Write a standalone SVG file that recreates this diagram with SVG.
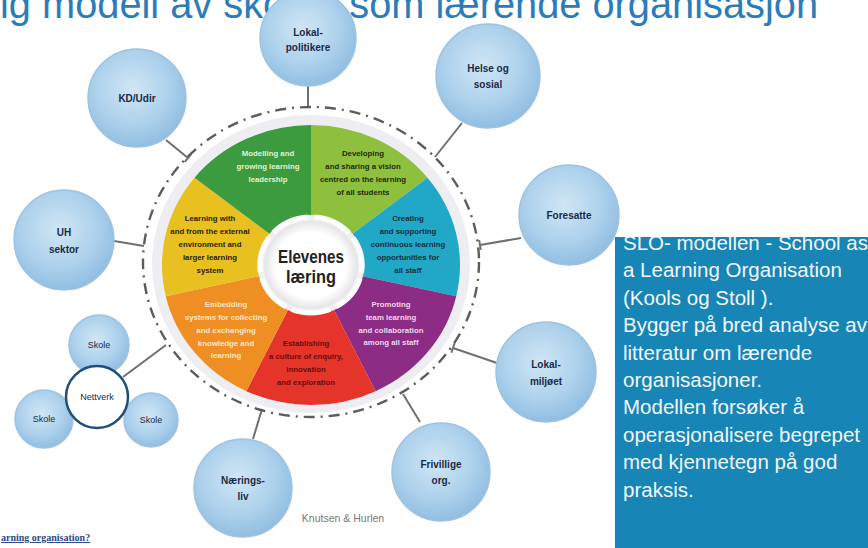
<svg xmlns="http://www.w3.org/2000/svg" width="868" height="548" viewBox="0 0 868 548">
<style>
.node{fill:url(#nodeGrad);stroke:#9fc2de;stroke-width:1.4}
.nt{font-family:"Liberation Sans",Arial,sans-serif;font-weight:bold;font-size:10px;fill:#1b2a48;text-anchor:middle}
.sk{font-family:"Liberation Sans",Arial,sans-serif;font-size:9px;fill:#1b2a48;text-anchor:middle}
.con{stroke:#6f6f6f;stroke-width:2;fill:none}
.seg{font-family:"Liberation Sans",Arial,sans-serif;font-weight:bold;font-size:7.8px;text-anchor:middle}
.box{font-family:"Liberation Sans",Arial,sans-serif;font-size:20.5px;fill:#f3f8fb}
</style>
<defs>
<radialGradient id="nodeGrad" cx="45%" cy="40%" r="62%">
<stop offset="0" stop-color="#d0e6f5"/>
<stop offset="0.6" stop-color="#add1ec"/>
<stop offset="1" stop-color="#8fbce0"/>
</radialGradient>
<radialGradient id="discGrad" cx="50%" cy="50%" r="50%">
<stop offset="0.75" stop-color="#ffffff"/>
<stop offset="1" stop-color="#e4e4e8"/>
</radialGradient>
<marker id="tbar" viewBox="-2 -6 4 12" markerWidth="4" markerHeight="12" refX="0" refY="0" orient="auto" markerUnits="userSpaceOnUse">
<path d="M0,-5 L0,5" stroke="#6f6f6f" stroke-width="2"/>
</marker>
<clipPath id="boxClip"><rect x="615" y="237" width="253" height="311"/></clipPath>
</defs>
<rect width="868" height="548" fill="#ffffff"/>

<text x="0" y="18" font-family="'Liberation Sans',Arial,sans-serif" font-size="40" fill="#2b7cb9" textLength="818" lengthAdjust="spacingAndGlyphs">ig modell av skolen som lærende organisasjon</text>

<g id="connectors">
<line class="con" x1="308" y1="86" x2="308" y2="108"/>
<line class="con" x1="166" y1="140" x2="188" y2="158" marker-end="url(#tbar)"/>
<line class="con" x1="462" y1="123" x2="435" y2="157"/>
<line class="con" x1="521" y1="238" x2="480" y2="245" marker-end="url(#tbar)"/>
<line class="con" x1="497" y1="363" x2="453" y2="348" marker-end="url(#tbar)"/>
<line class="con" x1="420" y1="422" x2="403" y2="394"/>
<line class="con" x1="253" y1="439" x2="262" y2="409"/>
<line class="con" x1="114" y1="241" x2="144" y2="246"/>
<line class="con" x1="123" y1="377" x2="166" y2="345"/>
</g>

<g id="wheel">
<ellipse cx="311" cy="264" rx="159" ry="149" fill="#eeeef2"/>
<ellipse cx="311" cy="262" rx="168" ry="155" fill="none" stroke="#5c5c5c" stroke-width="2.4" stroke-dasharray="11 6 2 6"/>
<g transform="translate(311,265) scale(1.064,1)">
<path d="M0,-140 A140,140 0 0 1 109.456,-87.289 L39.092,-31.175 A50,50 0 0 0 0,-50 Z" fill="#8fc03d"/>
<path d="M109.456,-87.289 A140,140 0 0 1 136.490,31.153 L48.747,11.126 A50,50 0 0 0 39.092,-31.175 Z" fill="#22a8c7"/>
<path d="M136.490,31.153 A140,140 0 0 1 60.743,126.136 L21.694,45.049 A50,50 0 0 0 48.747,11.126 Z" fill="#8c2c85"/>
<path d="M60.743,126.136 A140,140 0 0 1 -60.743,126.136 L-21.694,45.049 A50,50 0 0 0 21.694,45.049 Z" fill="#e5342a"/>
<path d="M-60.743,126.136 A140,140 0 0 1 -136.490,31.153 L-48.747,11.126 A50,50 0 0 0 -21.694,45.049 Z" fill="#ef8e23"/>
<path d="M-136.490,31.153 A140,140 0 0 1 -109.456,-87.289 L-39.092,-31.175 A50,50 0 0 0 -48.747,11.126 Z" fill="#e8c01f"/>
<path d="M-109.456,-87.289 A140,140 0 0 1 0,-140 L0,-50 A50,50 0 0 0 -39.092,-31.175 Z" fill="#3b9b3e"/>
<circle r="50" fill="#f1f1f3" opacity="0.35"/>
<circle r="48" fill="none" stroke="#ffffff" stroke-width="5" stroke-dasharray="37 6.08" stroke-dashoffset="29.25" opacity="0.9"/>
<circle r="44" fill="url(#discGrad)"/>
</g>
<text x="311" y="263" font-family="'Liberation Sans',Arial,sans-serif" font-size="18" font-weight="bold" fill="#222222" text-anchor="middle" textLength="66" lengthAdjust="spacingAndGlyphs">Elevenes</text>
<text x="311" y="283" font-family="'Liberation Sans',Arial,sans-serif" font-size="18" font-weight="bold" fill="#222222" text-anchor="middle" textLength="50" lengthAdjust="spacingAndGlyphs">læring</text>

<g class="seg" fill="#e2f1d4">
<text x="268" y="156">Modelling and</text>
<text x="268" y="169">growing learning</text>
<text x="268" y="182">leadership</text>
</g>
<g class="seg" fill="#1e2a0a">
<text x="363" y="156">Developing</text>
<text x="363" y="169">and sharing a vision</text>
<text x="363" y="182">centred on the learning</text>
<text x="363" y="195">of all students</text>
</g>
<g class="seg" fill="#0f2f3c">
<text x="408" y="221">Creating</text>
<text x="408" y="234">and supporting</text>
<text x="408" y="247">continuous learning</text>
<text x="408" y="260">opportunities for</text>
<text x="408" y="273">all staff</text>
</g>
<g class="seg" fill="#2a2200">
<text x="210" y="221">Learning with</text>
<text x="210" y="234">and from the external</text>
<text x="210" y="247">environment and</text>
<text x="210" y="260">larger learning</text>
<text x="210" y="273">system</text>
</g>
<g class="seg" fill="#fde8c8">
<text x="226" y="307">Embedding</text>
<text x="226" y="320">systems for collecting</text>
<text x="226" y="333">and exchanging</text>
<text x="226" y="346">knowledge and</text>
<text x="226" y="358">learning</text>
</g>
<g class="seg" fill="#f2d6ec">
<text x="391" y="307">Promoting</text>
<text x="391" y="320">team learning</text>
<text x="391" y="333">and collaboration</text>
<text x="391" y="345">among all staff</text>
</g>
<g class="seg" fill="#6a0c0c">
<text x="306" y="346">Establishing</text>
<text x="306" y="359">a culture of enquiry,</text>
<text x="306" y="372">innovation</text>
<text x="306" y="385">and exploration</text>
</g>
</g>

<g id="node-lokalpolitikere">
<circle class="node" cx="308" cy="38" r="48"/>
<text class="nt" x="308" y="36">Lokal-</text>
<text class="nt" x="308" y="51">politikere</text>
</g>
<g id="node-kdudir">
<circle class="node" cx="137" cy="98" r="49"/>
<text class="nt" x="137" y="102">KD/Udir</text>
</g>
<g id="node-helse">
<circle class="node" cx="488" cy="76" r="52"/>
<text class="nt" x="488" y="72">Helse og</text>
<text class="nt" x="488" y="88">sosial</text>
</g>
<g id="node-foresatte">
<circle class="node" cx="569" cy="215" r="50"/>
<text class="nt" x="569" y="219">Foresatte</text>
</g>
<g id="node-lokalmiljoet">
<circle class="node" cx="546" cy="372" r="50"/>
<text class="nt" x="546" y="368">Lokal-</text>
<text class="nt" x="546" y="385">miljøet</text>
</g>
<g id="node-frivillige">
<circle class="node" cx="441" cy="472" r="49"/>
<text class="nt" x="441" y="468">Frivillige</text>
<text class="nt" x="441" y="484">org.</text>
</g>
<g id="node-naeringsliv">
<circle class="node" cx="243" cy="488" r="49"/>
<text class="nt" x="243" y="484">Nærings-</text>
<text class="nt" x="243" y="500">liv</text>
</g>
<g id="node-uh">
<circle class="node" cx="64" cy="240" r="50"/>
<text class="nt" x="64" y="236" font-size="11">UH</text>
<text class="nt" x="64" y="253" font-size="11">sektor</text>
</g>
<g id="node-skole-top">
<circle class="node" cx="99" cy="345" r="30"/>
<text class="sk" x="99" y="348">Skole</text>
</g>
<g id="node-skole-left">
<circle class="node" cx="44" cy="419" r="29"/>
<text class="sk" x="44" y="422">Skole</text>
</g>
<g id="node-skole-right">
<circle class="node" cx="151" cy="420" r="27"/>
<text class="sk" x="151" y="423">Skole</text>
</g>
<g id="node-nettverk">
<circle cx="97" cy="397" r="31" fill="#ffffff" stroke="#1f4e79" stroke-width="2.5"/>
<text class="sk" x="97" y="400">Nettverk</text>
</g>

<text x="343" y="522" font-family="'Liberation Sans',Arial,sans-serif" font-size="10.5" fill="#777777" text-anchor="middle">Knutsen &amp; Hurlen</text>
<text x="1" y="541" font-family="'Liberation Serif','Times New Roman',serif" font-size="10" font-weight="bold" fill="#2a4a8a" text-decoration="underline">arning organisation?</text>

<g id="info-box">
<rect x="615" y="237" width="253" height="311" fill="#1785b5"/>
<g class="box" clip-path="url(#boxClip)">
<text x="623" y="250">SLO- modellen - School as</text>
<text x="623" y="277.4">a Learning Organisation</text>
<text x="623" y="304.8">(Kools og Stoll ).</text>
<text x="623" y="332.2">Bygger på bred analyse av</text>
<text x="623" y="359.6">litteratur om lærende</text>
<text x="623" y="387">organisasjoner.</text>
<text x="623" y="414.4">Modellen forsøker å</text>
<text x="623" y="441.8">operasjonalisere begrepet</text>
<text x="623" y="469.2">med kjennetegn på god</text>
<text x="623" y="496.6">praksis.</text>
</g>
</g>
</svg>
